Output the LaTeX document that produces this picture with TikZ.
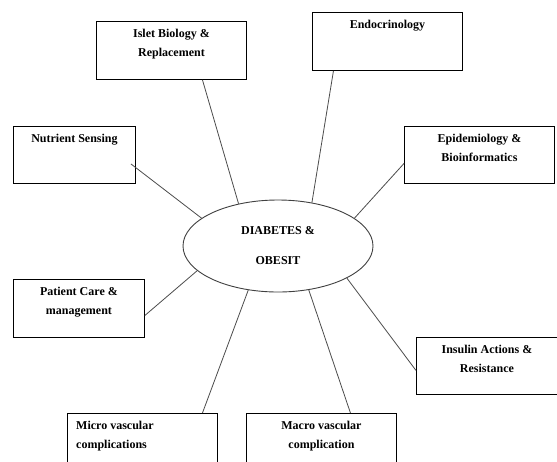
\documentclass[tikz,border=0pt]{standalone}
\usepackage{fontspec}
\setmainfont{Liberation Serif}
\usetikzlibrary{shapes.geometric}
\begin{document}
\begin{tikzpicture}[x=1pt,y=1pt,
  box/.style={draw=black, line width=0.9pt, inner sep=0pt, anchor=north west, minimum width=150pt, minimum height=58pt},
  lbl/.style={font=\bfseries\fontsize{12}{19}\selectfont, align=center, inner sep=0pt, anchor=north, yshift=-8pt},
  lblleft/.style={lbl, align=left, anchor=north west, xshift=9pt},
  conn/.style={draw=black!70, line width=0.8pt},
  hub/.style={draw=black!75, line width=0.9pt, ellipse, inner sep=0pt, minimum width=190pt, minimum height=92pt, align=center, font=\bfseries\fontsize{12}{30}\selectfont}]
\useasboundingbox (0,0) rectangle (557,-461);
\clip (0,0) rectangle (557,-461);
\fill[white] (0,0) rectangle (557,-461);

\node[box, label={[lbl]north:Islet Biology \&\\Replacement}] (isl) at (96,-21) {};
\node[box, label={[lbl]north:Endocrinology}] (endo) at (312,-12) {};
\node[box, minimum width=122pt, minimum height=57pt, label={[lbl]north:Nutrient Sensing}] (nut) at (13,-126) {};
\node[box, minimum width=150pt, minimum height=57pt, label={[lbl]north:Epidemiology \&\\Bioinformatics}] (epi) at (404,-126) {};
\node[box, minimum width=131pt, label={[lbl]north:Patient Care \&\\management}] (pat) at (13,-279) {};
\node[box, minimum width=141pt, minimum height=57pt, label={[lbl]north:Insulin Actions \&\\Resistance}] (ins) at (416,-337) {};
\node[box, minimum height=70pt, label={[lblleft]north west:Micro vascular\\complications}] (mic) at (67,-413) {};
\node[box, minimum height=70pt, label={[lbl]north:Macro vascular\\complication}] (mac) at (246,-413) {};

\node[hub] (dia) at (278,-246) {DIABETES \&\\OBESIT};

\draw[conn] ([xshift=31pt]isl.south) -- (dia.133.6);
\draw[conn] ([xshift=-5pt,yshift=20pt]nut.south east) -- (dia.160.4);
\draw[conn] ([xshift=-54pt]endo.south) -- (dia.52.3);
\draw[conn] ([yshift=-8.5pt]epi.west) -- (dia.20.7);
\draw[conn] ([yshift=-4.5pt]ins.west) -- (dia.335.4);
\draw[conn] ([xshift=29pt]mac.north) -- (dia.305.9);
\draw[conn] ([xshift=60pt]mic.north) -- (dia.236.6);
\draw[conn] ([yshift=-7pt]pat.east) -- (dia.197.5);
\end{tikzpicture}
\end{document}
